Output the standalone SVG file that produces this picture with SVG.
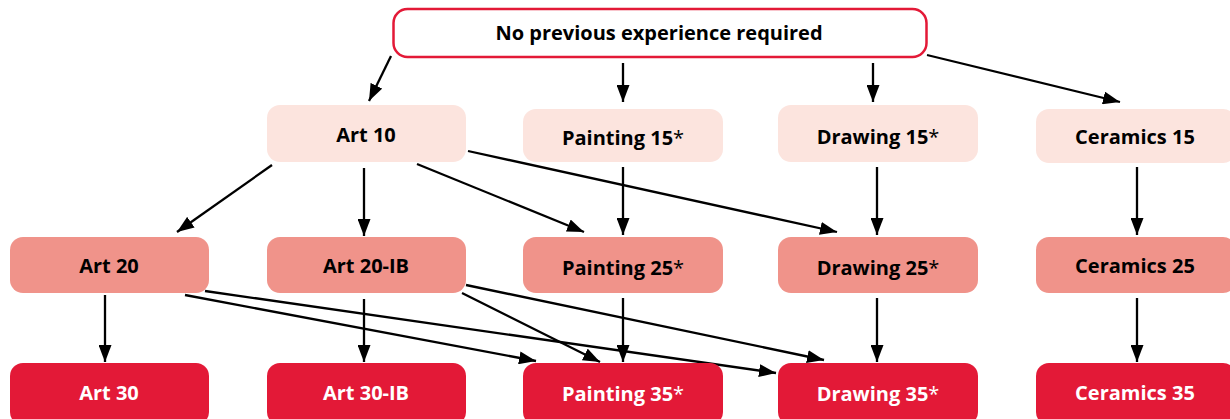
<svg xmlns="http://www.w3.org/2000/svg" width="1230" height="419" viewBox="0 0 1230 419">
  <style>
    text { font-family: "Open Sans", "Liberation Sans", sans-serif; font-weight: 700; font-size: 20px; text-anchor: middle; fill: #000; }
    .light { fill: #fce4de; }
    .mid { fill: #f0938a; }
    .dark { fill: #e31937; }
    text.inv { fill: #fff; }
    .ast { font-weight: 400; }
    .edge { stroke: #000; stroke-width: 2.3; fill: none; marker-end: url(#arrow); }
  </style>
  <defs>
    <marker id="arrow" markerUnits="userSpaceOnUse" markerWidth="17" markerHeight="13" refX="17" refY="6.5" orient="auto">
      <path d="M0,0 L17,6.5 L0,13 z" fill="#000"/>
    </marker>
  </defs>
  <rect width="1230" height="419" fill="#fff"/>

  <g id="connectors">
    <!-- from the entry box -->
    <line class="edge" x1="391" y1="56" x2="369" y2="101"/>
    <line class="edge" x1="623" y1="63" x2="623" y2="102"/>
    <line class="edge" x1="873" y1="63" x2="873" y2="102"/>
    <line class="edge" x1="927" y1="55" x2="1120" y2="102"/>
    <!-- level 1 to level 2 -->
    <line class="edge" x1="272" y1="165" x2="177" y2="232"/>
    <line class="edge" x1="364" y1="168" x2="364" y2="236"/>
    <line class="edge" x1="417" y1="164" x2="584" y2="232"/>
    <line class="edge" x1="468" y1="151" x2="837" y2="232"/>
    <line class="edge" x1="623" y1="167" x2="623" y2="235"/>
    <line class="edge" x1="877" y1="167" x2="877" y2="235"/>
    <line class="edge" x1="1137" y1="167" x2="1137" y2="235"/>
    <!-- level 2 to level 3 -->
    <line class="edge" x1="105" y1="295" x2="105" y2="362"/>
    <line class="edge" x1="364" y1="299" x2="364" y2="362"/>
    <line class="edge" x1="185" y1="295" x2="536" y2="361"/>
    <line class="edge" x1="205" y1="291" x2="776" y2="373"/>
    <line class="edge" x1="462" y1="293" x2="600" y2="362"/>
    <line class="edge" x1="466" y1="285" x2="824" y2="360"/>
    <line class="edge" x1="623" y1="298" x2="623" y2="362"/>
    <line class="edge" x1="877" y1="298" x2="877" y2="362"/>
    <line class="edge" x1="1137" y1="298" x2="1137" y2="362"/>
  </g>

  <g id="entry">
    <rect x="393.5" y="9" width="533" height="48" rx="14" fill="#fff" stroke="#e31937" stroke-width="2.5"/>
    <text x="659" y="40">No previous experience required</text>
  </g>

  <g id="art10"><rect class="light" x="267" y="105" width="199" height="57" rx="13"/><text x="366" y="142">Art 10</text></g>
  <g id="painting15"><rect class="light" x="523" y="109" width="200" height="53" rx="13"/><text x="623" y="145">Painting 15<tspan class="ast">*</tspan></text></g>
  <g id="drawing15"><rect class="light" x="778" y="105" width="200" height="57" rx="13"/><text x="878" y="144">Drawing 15<tspan class="ast">*</tspan></text></g>
  <g id="ceramics15"><rect class="light" x="1036" y="109" width="200" height="54" rx="13"/><text x="1135" y="144">Ceramics 15</text></g>

  <g id="art20"><rect class="mid" x="10" y="237" width="199" height="56" rx="13"/><text x="109" y="273">Art 20</text></g>
  <g id="art20ib"><rect class="mid" x="267" y="237" width="199" height="56" rx="13"/><text x="366" y="273">Art 20-IB</text></g>
  <g id="painting25"><rect class="mid" x="523" y="237" width="200" height="56" rx="13"/><text x="623" y="275">Painting 25<tspan class="ast">*</tspan></text></g>
  <g id="drawing25"><rect class="mid" x="778" y="237" width="200" height="56" rx="13"/><text x="878" y="275">Drawing 25<tspan class="ast">*</tspan></text></g>
  <g id="ceramics25"><rect class="mid" x="1036" y="237" width="200" height="56" rx="13"/><text x="1135" y="273">Ceramics 25</text></g>

  <g id="art30"><rect class="dark" x="10" y="363" width="199" height="62" rx="13"/><text class="inv" x="109" y="400">Art 30</text></g>
  <g id="art30ib"><rect class="dark" x="267" y="363" width="199" height="62" rx="13"/><text class="inv" x="366" y="400">Art 30-IB</text></g>
  <g id="painting35"><rect class="dark" x="523" y="363" width="200" height="62" rx="13"/><text class="inv" x="623" y="401">Painting 35<tspan class="ast">*</tspan></text></g>
  <g id="drawing35"><rect class="dark" x="778" y="363" width="200" height="62" rx="13"/><text class="inv" x="878" y="401">Drawing 35<tspan class="ast">*</tspan></text></g>
  <g id="ceramics35"><rect class="dark" x="1036" y="363" width="200" height="62" rx="13"/><text class="inv" x="1135" y="400">Ceramics 35</text></g>
</svg>
